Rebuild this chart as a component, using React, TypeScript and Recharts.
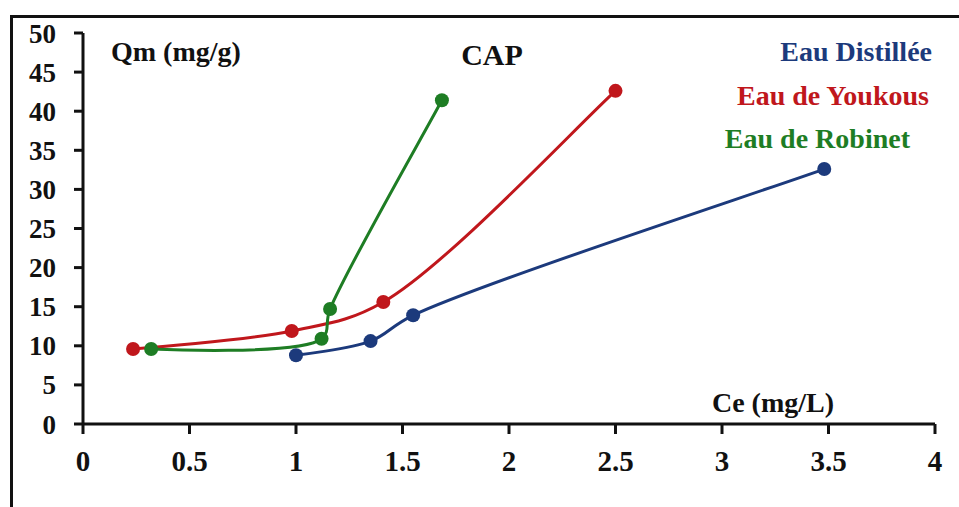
import React from 'react';
import { LineChart, Line, XAxis, YAxis } from 'recharts';

// Ce (mg/L) / Qm (mg/g) per water type
const distilleeCe = [1.0, 1.35, 1.55, 3.48];
const distilleeQm = [8.8, 10.6, 13.9, 32.6];

const youkousCe = [0.235, 0.98, 1.41, 2.5];
const youkousQm = [9.6, 11.9, 15.6, 42.6];

const robinetCe = [0.32, 1.12, 1.16, 1.685];
const robinetQm = [9.6, 10.9, 14.7, 41.4];

const xTicks = [0, 0.5, 1, 1.5, 2, 2.5, 3, 3.5, 4];
const yTicks = [0, 5, 10, 15, 20, 25, 30, 35, 40, 45, 50];

const toPoints = (xs: number[], ys: number[]) => xs.map((x, i) => ({ x, y: ys[i] }));

const BLUE = '#1c3a7c';
const RED = '#c0171c';
const GREEN = '#1e7d24';
const FONT = '"Liberation Serif", "Times New Roman", Times, Tinos, "Noto Serif", "DejaVu Serif", FreeSerif, serif';

// centripetal Catmull-Rom (same maths as d3's curveCatmullRom), close to Excel's smoothed lines
function catmullRom(context: any) {
    const alpha = 0.5;
    let x0 = NaN, y0 = NaN, x1 = NaN, y1 = NaN, x2 = NaN, y2 = NaN;
    let l01a = 0, l12a = 0, l23a = 0, l012a = 0, l122a = 0, l232a = 0;
    let n = 0;

    const seg = (x: number, y: number) => {
        let cx1 = x1, cy1 = y1, cx2 = x2, cy2 = y2;
        if (l01a > 1e-12) {
            const a = 2 * l012a + 3 * l01a * l12a + l122a;
            const d = 3 * l01a * (l01a + l12a);
            cx1 = (x1 * a - x0 * l122a + x2 * l012a) / d;
            cy1 = (y1 * a - y0 * l122a + y2 * l012a) / d;
        }
        if (l23a > 1e-12) {
            const b = 2 * l232a + 3 * l23a * l12a + l122a;
            const m = 3 * l23a * (l23a + l12a);
            cx2 = (x2 * b + x1 * l232a - x * l122a) / m;
            cy2 = (y2 * b + y1 * l232a - y * l122a) / m;
        }
        context.bezierCurveTo(cx1, cy1, cx2, cy2, x2, y2);
    };

    return {
        areaStart() {},
        areaEnd() {},
        lineStart() {
            x0 = x1 = x2 = y0 = y1 = y2 = NaN;
            l01a = l12a = l23a = l012a = l122a = l232a = 0;
            n = 0;
        },
        lineEnd() {
            if (n === 2) context.lineTo(x2, y2);
            else if (n === 3) seg(x2, y2);
        },
        point(x: number, y: number) {
            x = +x;
            y = +y;
            if (n) {
                const dx = x2 - x, dy = y2 - y;
                l232a = Math.pow(dx * dx + dy * dy, alpha);
                l23a = Math.sqrt(l232a);
            }
            if (n === 0) {
                n = 1;
                context.moveTo(x, y);
            } else if (n === 1) {
                n = 2;
            } else {
                n = 3;
                seg(x, y);
            }
            l01a = l12a; l12a = l23a;
            l012a = l122a; l122a = l232a;
            x0 = x1; x1 = x2; x2 = x;
            y0 = y1; y1 = y2; y2 = y;
        },
    };
}

export default function App() {
    const series = [
        { name: 'Eau Distillée', color: BLUE, data: toPoints(distilleeCe, distilleeQm) },
        { name: 'Eau de Youkous', color: RED, data: toPoints(youkousCe, youkousQm) },
        { name: 'Eau de Robinet', color: GREEN, data: toPoints(robinetCe, robinetQm) },
    ];

    const textStyle = { fontFamily: FONT, fontWeight: 700, fontSize: 28 };

    return (
        <div style={{ position: 'absolute', left: 0, top: 0, width: 959, height: 507, background: '#fff' }}>
            <div
                style={{
                    position: 'absolute',
                    left: 10,
                    top: 15,
                    width: 949,
                    height: 492,
                    borderTop: '3px solid #111',
                    borderLeft: '3px solid #111',
                }}
            />
            <LineChart width={959} height={507} margin={{ top: 33, right: 24, bottom: 23, left: 0 }}>
                <XAxis
                    type="number"
                    dataKey="x"
                    domain={[0, 4]}
                    ticks={xTicks}
                    allowDataOverflow
                    height={60}
                    axisLine={{ stroke: '#111', strokeWidth: 3 }}
                    tickLine={{ stroke: '#111', strokeWidth: 3 }}
                    tickSize={10}
                    tickMargin={16}
                    tick={{ fill: '#111', fontFamily: FONT, fontWeight: 700, fontSize: 29 }}
                />
                <YAxis
                    type="number"
                    dataKey="y"
                    domain={[0, 50]}
                    ticks={yTicks}
                    width={83}
                    axisLine={{ stroke: '#111', strokeWidth: 3 }}
                    tickLine={{ stroke: '#111', strokeWidth: 3 }}
                    tickSize={9}
                    tickMargin={18}
                    tick={{ fill: '#111', fontFamily: FONT, fontWeight: 700, fontSize: 27 }}
                />
                {series.map((s) => (
                    <Line
                        key={s.name}
                        data={s.data}
                        dataKey="y"
                        name={s.name}
                        type={catmullRom as any}
                        stroke={s.color}
                        strokeWidth={3}
                        dot={{ r: 7, fill: s.color, stroke: s.color, strokeWidth: 0 }}
                        activeDot={false}
                        isAnimationActive={false}
                    />
                ))}
            </LineChart>
            <svg width={959} height={507} style={{ position: 'absolute', left: 0, top: 0, pointerEvents: 'none' }}>
                <text x={111} y={61} fill="#111" style={textStyle}>Qm (mg/g)</text>
                <text x={492} y={65} textAnchor="middle" fill="#111" style={{ ...textStyle, fontSize: 30 }}>CAP</text>
                <text x={932} y={61} textAnchor="end" fill={BLUE} style={textStyle}>Eau Distillée</text>
                <text x={929} y={105} textAnchor="end" fill={RED} style={textStyle}>Eau de Youkous</text>
                <text x={910} y={148} textAnchor="end" fill={GREEN} style={textStyle}>Eau de Robinet</text>
                <text x={834} y={412} textAnchor="end" fill="#111" style={textStyle}>Ce (mg/L)</text>
            </svg>
        </div>
    );
}
